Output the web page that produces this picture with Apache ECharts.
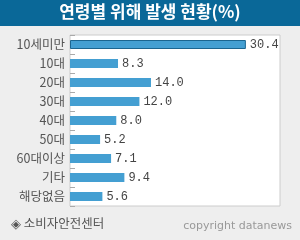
<!DOCTYPE html>
<html><head><meta charset="utf-8">
<script src="https://cdn.jsdelivr.net/npm/echarts@6/dist/echarts.min.js"></script>
<style>html,body{margin:0;padding:0;background:#eeeeee;}#c{width:300px;height:240px;}</style>
</head><body><div id="c"></div>
<script>
var categories = ['10세미만','10대','20대','30대','40대','50대','60대이상','기타','해당없음'];
var values = [30.4, 8.3, 14.0, 12.0, 8.0, 5.2, 7.1, 9.4, 5.6];
var titleText = '연령별 위해 발생 현황(%)';
var sourceText = '◈ 소비자안전센터';
var copyText = 'copyright datanews';

var chart = echarts.init(document.getElementById('c'), null, {renderer:'canvas'});
var barData = values.map(function(v, i){
  return i === 0 ? {value: v, itemStyle: {borderColor:'#1b6590', borderWidth:1}} : v;
});
chart.setOption({
  backgroundColor: '#eeeeee',
  animation: false,
  grid: {left: 70, right: 20, top: 35, bottom: 34, show: true, backgroundColor: '#ffffff', borderColor: '#cccccc', borderWidth: 1, containLabel: false},
  xAxis: {type: 'value', min: 0, max: 36.3, show: false},
  yAxis: {
    type: 'category', inverse: true, data: categories,
    axisLine: {show: false},
    axisTick: {show: true, inside: true, length: 5, lineStyle: {color: '#aaaaaa'}},
    axisLabel: {margin: 5, color: '#555555', fontSize: 12.5, fontFamily: 'Noto Sans CJK KR'}
  },
  series: [{
    type: 'bar', data: barData, barWidth: 9,
    itemStyle: {color: '#449fd2'},
    label: {show: true, position: 'right', distance: 4, color: '#444444', fontSize: 12, fontFamily: 'Liberation Mono',
      formatter: function(p){ return p.value.toFixed(1); }}
  }],
  graphic: [
    {type: 'rect', left: 0, top: 0, shape: {width: 300, height: 26}, style: {fill: '#0a6898'}, z: 10},
    {type: 'text', left: 'center', top: 3, z: 11, style: {text: titleText, fill: '#ffffff', font: 'bold 17px "Noto Sans CJK KR"'}},
    {type: 'text', left: 11, top: 217, z: 11, style: {text: sourceText, fill: '#555555', font: '12.5px "Noto Sans CJK KR"'}},
    {type: 'text', right: 8, top: 221, z: 11, style: {text: copyText, fill: '#999999', font: '11px "DejaVu Sans"'}}
  ]
});
</script></body></html>
